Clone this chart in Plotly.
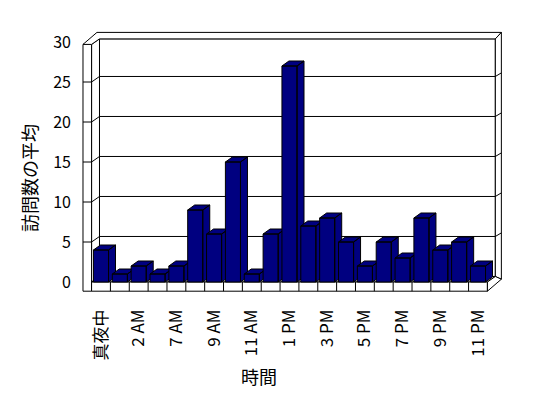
import plotly.graph_objects as go

# ---- data ----
categories = ["真夜中", "1 AM", "2 AM", "6 AM", "7 AM", "8 AM", "9 AM", "10 AM", "11 AM", "正午",
              "1 PM", "2 PM", "3 PM", "4 PM", "5 PM", "6 PM", "7 PM", "8 PM", "9 PM", "10 PM", "11 PM"]
visits = [4, 1, 2, 1, 2, 9, 6, 15, 1, 6, 27, 7, 8, 5, 2, 5, 3, 8, 4, 5, 2]
y_ticks = [0, 5, 10, 15, 20, 25, 30]
grid_levels = [5, 10, 15, 20, 25]
x_title = "時間"
y_title = "訪問数の平均"

# ---- geometry / style (in axis units) ----
W, H = 548, 398
ML, MR, MT, MB = 75, 38, 25, 98
XR = [-1.379, 21.698]
YR = [-2.25, 32.125]
N = len(categories)
BAR_HALF = 0.40
BDX, BDY = 0.37, 0.625          # bar depth offset
D1X, D1Y = 0.42, 0.69           # front -> back wall face
D2X, D2Y = 0.74, 1.5            # front -> back wall rear
LEFT = -0.955
X0, X1 = -0.5, N - 0.5
TOP = 29.7
SLAB = -1.15
NAVY = "#000080"
FONT = "Noto Sans CJK JP"

fig = go.Figure()


def poly(pts, fill="white", line="black"):
    xs = [p[0] for p in pts] + [pts[0][0]]
    ys = [p[1] for p in pts] + [pts[0][1]]
    fig.add_trace(go.Scatter(x=xs, y=ys, mode="lines", fill="toself", fillcolor=fill,
                             line=dict(color=line, width=1), hoverinfo="skip", showlegend=False))


def lines(segs):
    xs, ys = [], []
    for (a, b) in segs:
        xs += [a[0], b[0], None]
        ys += [a[1], b[1], None]
    fig.add_trace(go.Scatter(x=xs, y=ys, mode="lines", line=dict(color="black", width=1),
                             hoverinfo="skip", showlegend=False))


# back wall face
poly([(X0 + D1X, D1Y), (X1 + D1X, D1Y), (X1 + D1X, TOP + D1Y), (X0 + D1X, TOP + D1Y)])
# left wall inner face
poly([(X0, 0), (X0 + D1X, D1Y), (X0 + D1X, TOP + D1Y), (X0, TOP)])
# left wall front face
poly([(LEFT, SLAB), (X0, SLAB), (X0, TOP), (LEFT, TOP)])
# top strip (wall thickness)
poly([(LEFT, TOP), (X0, TOP), (X0 + D1X, TOP + D1Y), (X1 + D1X, TOP + D1Y),
      (X1 + D2X, TOP + D2Y), (LEFT + D2X, TOP + D2Y)])
# right wall strip
poly([(X1 + D1X, D1Y), (X1 + D1X, TOP + D1Y), (X1 + D2X, TOP + D2Y), (X1 + D2X, SLAB + D2Y)])
# floor top surface
poly([(X0, 0), (X1, 0), (X1 + D1X, D1Y), (X0 + D1X, D1Y)])
# floor slab front
poly([(X0, SLAB), (X1, SLAB), (X1, 0), (X0, 0)])
# floor slab right side
poly([(X1, 0), (X1, SLAB), (X1 + D2X, SLAB + D2Y), (X1 + D1X, D1Y)])

# gridlines
segs = []
for g in grid_levels:
    segs.append(((LEFT, g), (X0, g)))
    segs.append(((X0, g), (X0 + D1X, g + D1Y)))
    segs.append(((X0 + D1X, g + D1Y), (X1 + D1X, g + D1Y)))
    segs.append(((X1 + D1X, g + D1Y), (X1 + D2X, g + D1Y + 0.45)))
# slab dividers
for i in range(1, N):
    segs.append(((i - 0.5, SLAB), (i - 0.5, 0)))
lines(segs)

# bars (3D look)
for i, v in enumerate(visits):
    l, r = i - BAR_HALF, i + BAR_HALF
    xs, ys = [], []
    faces = [
        [(r, 0), (r + BDX, BDY), (r + BDX, v + BDY), (r, v)],           # side
        [(l, v), (r, v), (r + BDX, v + BDY), (l + BDX, v + BDY)],       # top
        [(l, 0), (r, 0), (r, v), (l, v)],                               # front
    ]
    for f in faces:
        xs += [p[0] for p in f] + [f[0][0], None]
        ys += [p[1] for p in f] + [f[0][1], None]
    fig.add_trace(go.Scatter(x=xs, y=ys, mode="lines", fill="toself", fillcolor=NAVY,
                             line=dict(color="black", width=1), hoverinfo="skip",
                             showlegend=False, name=categories[i]))

pw, ph = W - ML - MR, H - MT - MB


def px2paper(px, py):
    return (px - ML) / pw, (H - MB - py) / ph


tx, ty = px2paper(259, 376)
yx, yy = px2paper(29, 178)

fig.add_annotation(text=x_title, x=tx, y=ty, xref="paper", yref="paper", showarrow=False,
                   xanchor="center", yanchor="middle",
                   font=dict(family=FONT, size=18, color="black"))
fig.add_annotation(text=y_title, x=yx, y=yy, xref="paper", yref="paper", showarrow=False,
                   xanchor="center", yanchor="middle",
                   textangle=-90, font=dict(family=FONT, size=18, color="black"))

fig.update_layout(
    width=W, height=H, autosize=False,
    margin=dict(l=ML, r=MR, t=MT, b=MB, pad=0),
    paper_bgcolor="white", plot_bgcolor="white",
    font=dict(family=FONT, color="black"),
    showlegend=False,
    xaxis=dict(range=XR, showgrid=False, zeroline=False, showline=False,
               tickmode="array", tickvals=list(range(0, N, 2)), ticktext=categories[::2],
               tickangle=-90, ticks="", ticklabelstandoff=5,
               tickfont=dict(family=FONT, size=17, color="black"), fixedrange=True),
    yaxis=dict(range=YR, showgrid=False, zeroline=False, showline=False,
               tickmode="array", tickvals=y_ticks, ticks="", ticklabelstandoff=3,
               tickfont=dict(family=FONT, size=16, color="black"), fixedrange=True),
)

fig.write_html("out.html")
